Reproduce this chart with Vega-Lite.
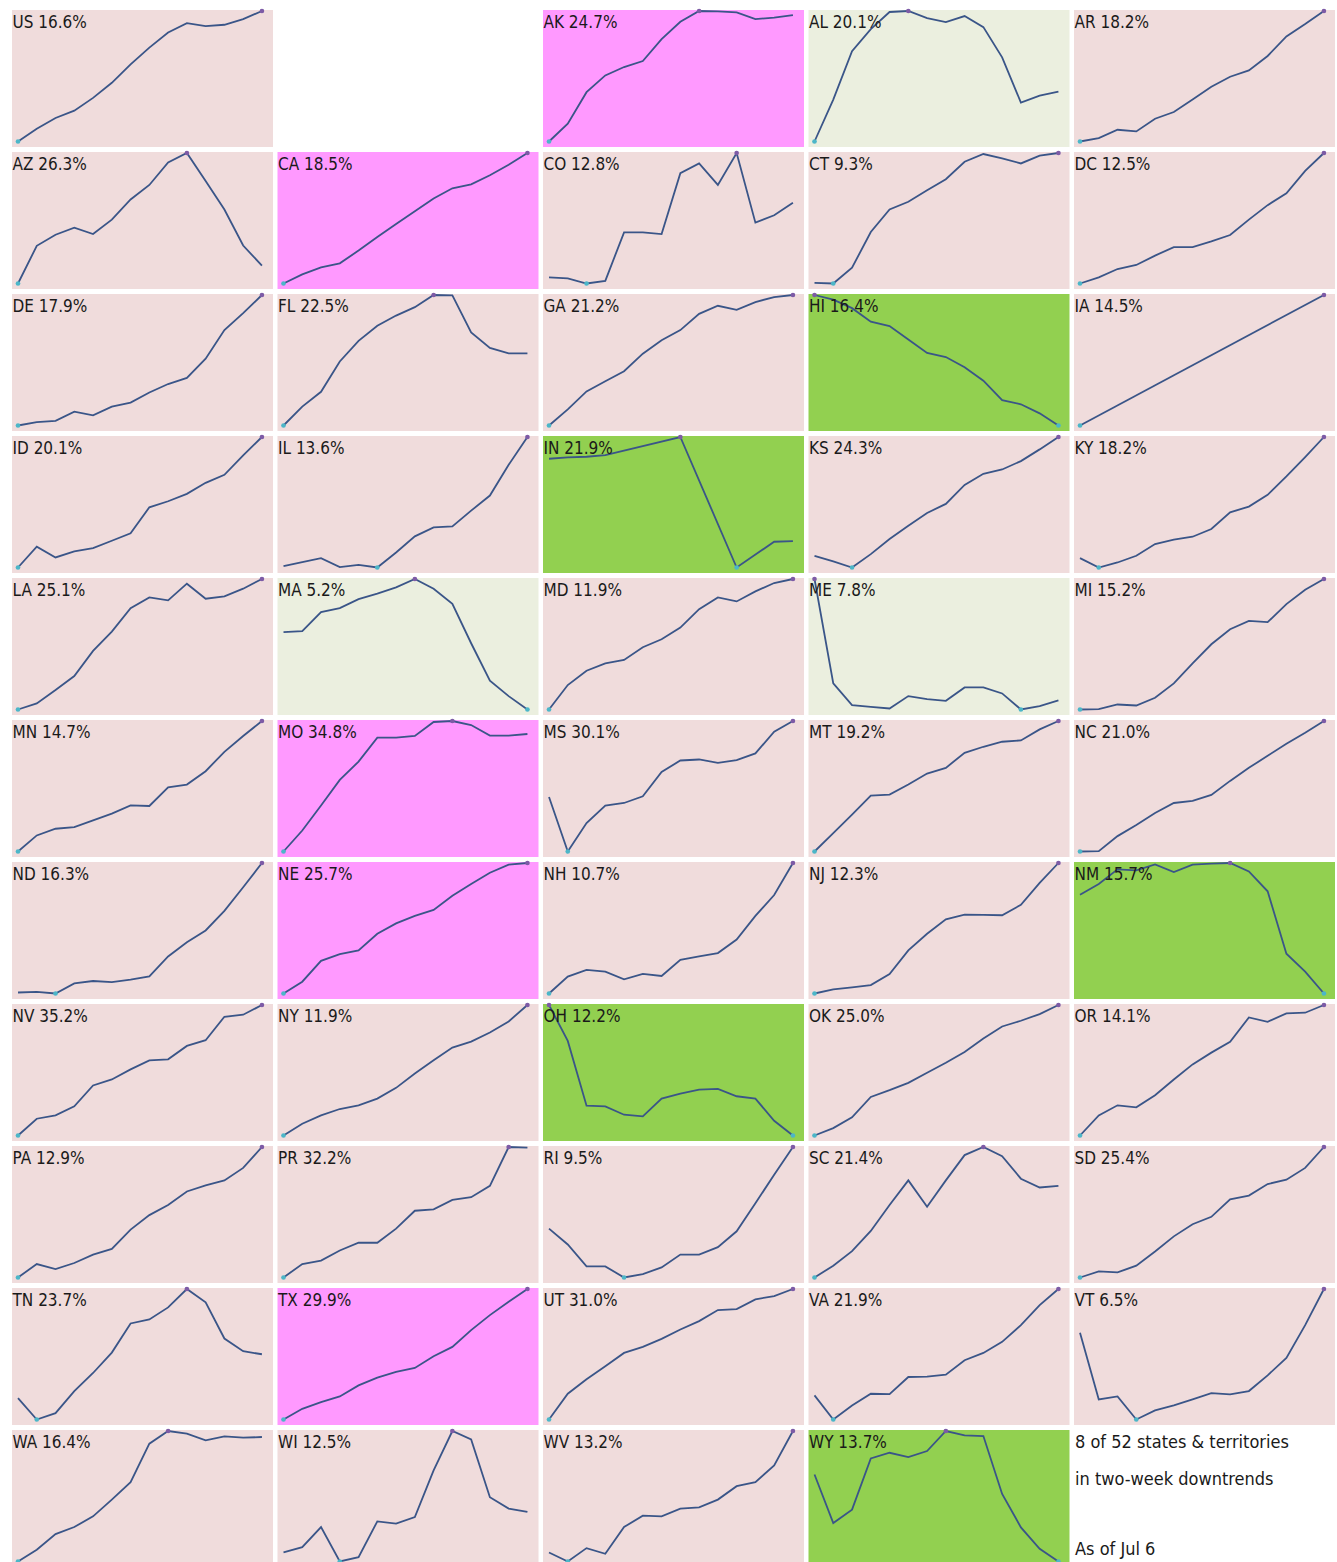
{
  "$schema": "https://vega.github.io/schema/vega-lite/v6.json",
  "padding": {"left": 12, "top": 7, "right": 0, "bottom": 0},
  "background": "white",
  "config": {"view": {"stroke": null}, "header": {"labels": false, "title": null, "labelExpr": "''", "labelFontSize": 0, "labelPadding": 0, "labelLineHeight": 0, "titlePadding": 0}},
  "data": {"values": [
    {"s":"US","c":"up","label":"US 16.6%"},{"s":"blank","c":"none"},{"s":"AK","c":"up-fast","label":"AK 24.7%"},{"s":"AL","c":"down","label":"AL 20.1%"},{"s":"AR","c":"up","label":"AR 18.2%"},
    {"s":"AZ","c":"up","label":"AZ 26.3%"},{"s":"CA","c":"up-fast","label":"CA 18.5%"},{"s":"CO","c":"up","label":"CO 12.8%"},{"s":"CT","c":"up","label":"CT 9.3%"},{"s":"DC","c":"up","label":"DC 12.5%"},
    {"s":"DE","c":"up","label":"DE 17.9%"},{"s":"FL","c":"up","label":"FL 22.5%"},{"s":"GA","c":"up","label":"GA 21.2%"},{"s":"HI","c":"down-strong","label":"HI 16.4%"},{"s":"IA","c":"up","label":"IA 14.5%"},
    {"s":"ID","c":"up","label":"ID 20.1%"},{"s":"IL","c":"up","label":"IL 13.6%"},{"s":"IN","c":"down-strong","label":"IN 21.9%"},{"s":"KS","c":"up","label":"KS 24.3%"},{"s":"KY","c":"up","label":"KY 18.2%"},
    {"s":"LA","c":"up","label":"LA 25.1%"},{"s":"MA","c":"down","label":"MA 5.2%"},{"s":"MD","c":"up","label":"MD 11.9%"},{"s":"ME","c":"down","label":"ME 7.8%"},{"s":"MI","c":"up","label":"MI 15.2%"},
    {"s":"MN","c":"up","label":"MN 14.7%"},{"s":"MO","c":"up-fast","label":"MO 34.8%"},{"s":"MS","c":"up","label":"MS 30.1%"},{"s":"MT","c":"up","label":"MT 19.2%"},{"s":"NC","c":"up","label":"NC 21.0%"},
    {"s":"ND","c":"up","label":"ND 16.3%"},{"s":"NE","c":"up-fast","label":"NE 25.7%"},{"s":"NH","c":"up","label":"NH 10.7%"},{"s":"NJ","c":"up","label":"NJ 12.3%"},{"s":"NM","c":"down-strong","label":"NM 15.7%"},
    {"s":"NV","c":"up","label":"NV 35.2%"},{"s":"NY","c":"up","label":"NY 11.9%"},{"s":"OH","c":"down-strong","label":"OH 12.2%"},{"s":"OK","c":"up","label":"OK 25.0%"},{"s":"OR","c":"up","label":"OR 14.1%"},
    {"s":"PA","c":"up","label":"PA 12.9%"},{"s":"PR","c":"up","label":"PR 32.2%"},{"s":"RI","c":"up","label":"RI 9.5%"},{"s":"SC","c":"up","label":"SC 21.4%"},{"s":"SD","c":"up","label":"SD 25.4%"},
    {"s":"TN","c":"up","label":"TN 23.7%"},{"s":"TX","c":"up-fast","label":"TX 29.9%"},{"s":"UT","c":"up","label":"UT 31.0%"},{"s":"VA","c":"up","label":"VA 21.9%"},{"s":"VT","c":"up","label":"VT 6.5%"},
    {"s":"WA","c":"up","label":"WA 16.4%"},{"s":"WI","c":"up","label":"WI 12.5%"},{"s":"WV","c":"up","label":"WV 13.2%"},{"s":"WY","c":"down-strong","label":"WY 13.7%"},
    {"s":"note","c":"none","i":0,"note":"8 of 52 states & territories\nin two-week downtrends"},
    {"s":"note","i":0,"asof":"As of Jul 6"},

    {"s":"US","i":0,"v":15},{"s":"US","i":1,"v":53},{"s":"US","i":2,"v":85},{"s":"US","i":3,"v":107},{"s":"US","i":4,"v":145},{"s":"US","i":5,"v":190},{"s":"US","i":6,"v":245},{"s":"US","i":7,"v":295},{"s":"US","i":8,"v":340},{"s":"US","i":9,"v":368},{"s":"US","i":10,"v":359},{"s":"US","i":11,"v":363},{"s":"US","i":12,"v":380},{"s":"US","i":13,"v":404},
    {"s":"AK","i":0,"v":15},{"s":"AK","i":1,"v":68},{"s":"AK","i":2,"v":162},{"s":"AK","i":3,"v":212},{"s":"AK","i":4,"v":237},{"s":"AK","i":5,"v":255},{"s":"AK","i":6,"v":320},{"s":"AK","i":7,"v":372},{"s":"AK","i":8,"v":404},{"s":"AK","i":9,"v":403},{"s":"AK","i":10,"v":400},{"s":"AK","i":11,"v":380},{"s":"AK","i":12,"v":384},{"s":"AK","i":13,"v":392},
    {"s":"AL","i":0,"v":15},{"s":"AL","i":1,"v":140},{"s":"AL","i":2,"v":284},{"s":"AL","i":3,"v":350},{"s":"AL","i":4,"v":401},{"s":"AL","i":5,"v":404},{"s":"AL","i":6,"v":383},{"s":"AL","i":7,"v":371},{"s":"AL","i":8,"v":389},{"s":"AL","i":9,"v":356},{"s":"AL","i":10,"v":266},{"s":"AL","i":11,"v":131},{"s":"AL","i":12,"v":152},{"s":"AL","i":13,"v":164},
    {"s":"AR","i":0,"v":15},{"s":"AR","i":1,"v":25},{"s":"AR","i":2,"v":50},{"s":"AR","i":3,"v":45},{"s":"AR","i":4,"v":83},{"s":"AR","i":5,"v":103},{"s":"AR","i":6,"v":140},{"s":"AR","i":7,"v":178},{"s":"AR","i":8,"v":208},{"s":"AR","i":9,"v":227},{"s":"AR","i":10,"v":270},{"s":"AR","i":11,"v":328},{"s":"AR","i":12,"v":365},{"s":"AR","i":13,"v":404},
    {"s":"AZ","i":0,"v":17},{"s":"AZ","i":1,"v":129},{"s":"AZ","i":2,"v":162},{"s":"AZ","i":3,"v":183},{"s":"AZ","i":4,"v":164},{"s":"AZ","i":5,"v":207},{"s":"AZ","i":6,"v":267},{"s":"AZ","i":7,"v":310},{"s":"AZ","i":8,"v":377},{"s":"AZ","i":9,"v":405},{"s":"AZ","i":10,"v":322},{"s":"AZ","i":11,"v":237},{"s":"AZ","i":12,"v":130},{"s":"AZ","i":13,"v":70},
    {"s":"CA","i":0,"v":17},{"s":"CA","i":1,"v":44},{"s":"CA","i":2,"v":65},{"s":"CA","i":3,"v":77},{"s":"CA","i":4,"v":115},{"s":"CA","i":5,"v":155},{"s":"CA","i":6,"v":194},{"s":"CA","i":7,"v":232},{"s":"CA","i":8,"v":270},{"s":"CA","i":9,"v":300},{"s":"CA","i":10,"v":312},{"s":"CA","i":11,"v":339},{"s":"CA","i":12,"v":370},{"s":"CA","i":13,"v":405},
    {"s":"CO","i":0,"v":35},{"s":"CO","i":1,"v":32},{"s":"CO","i":2,"v":17},{"s":"CO","i":3,"v":25},{"s":"CO","i":4,"v":169},{"s":"CO","i":5,"v":169},{"s":"CO","i":6,"v":164},{"s":"CO","i":7,"v":345},{"s":"CO","i":8,"v":374},{"s":"CO","i":9,"v":310},{"s":"CO","i":10,"v":405},{"s":"CO","i":11,"v":198},{"s":"CO","i":12,"v":220},{"s":"CO","i":13,"v":257},
    {"s":"CT","i":0,"v":19},{"s":"CT","i":1,"v":17},{"s":"CT","i":2,"v":64},{"s":"CT","i":3,"v":170},{"s":"CT","i":4,"v":237},{"s":"CT","i":5,"v":260},{"s":"CT","i":6,"v":294},{"s":"CT","i":7,"v":327},{"s":"CT","i":8,"v":379},{"s":"CT","i":9,"v":402},{"s":"CT","i":10,"v":389},{"s":"CT","i":11,"v":374},{"s":"CT","i":12,"v":397},{"s":"CT","i":13,"v":405},
    {"s":"DC","i":0,"v":17},{"s":"DC","i":1,"v":35},{"s":"DC","i":2,"v":60},{"s":"DC","i":3,"v":72},{"s":"DC","i":4,"v":100},{"s":"DC","i":5,"v":125},{"s":"DC","i":6,"v":125},{"s":"DC","i":7,"v":142},{"s":"DC","i":8,"v":161},{"s":"DC","i":9,"v":207},{"s":"DC","i":10,"v":250},{"s":"DC","i":11,"v":285},{"s":"DC","i":12,"v":352},{"s":"DC","i":13,"v":405},
    {"s":"DE","i":0,"v":18},{"s":"DE","i":1,"v":28},{"s":"DE","i":2,"v":32},{"s":"DE","i":3,"v":59},{"s":"DE","i":4,"v":48},{"s":"DE","i":5,"v":74},{"s":"DE","i":6,"v":86},{"s":"DE","i":7,"v":116},{"s":"DE","i":8,"v":141},{"s":"DE","i":9,"v":159},{"s":"DE","i":10,"v":216},{"s":"DE","i":11,"v":301},{"s":"DE","i":12,"v":351},{"s":"DE","i":13,"v":405},
    {"s":"FL","i":0,"v":18},{"s":"FL","i":1,"v":74},{"s":"FL","i":2,"v":118},{"s":"FL","i":3,"v":208},{"s":"FL","i":4,"v":269},{"s":"FL","i":5,"v":314},{"s":"FL","i":6,"v":344},{"s":"FL","i":7,"v":369},{"s":"FL","i":8,"v":405},{"s":"FL","i":9,"v":404},{"s":"FL","i":10,"v":294},{"s":"FL","i":11,"v":248},{"s":"FL","i":12,"v":232},{"s":"FL","i":13,"v":232},
    {"s":"GA","i":0,"v":18},{"s":"GA","i":1,"v":66},{"s":"GA","i":2,"v":119},{"s":"GA","i":3,"v":149},{"s":"GA","i":4,"v":179},{"s":"GA","i":5,"v":231},{"s":"GA","i":6,"v":271},{"s":"GA","i":7,"v":301},{"s":"GA","i":8,"v":349},{"s":"GA","i":9,"v":373},{"s":"GA","i":10,"v":361},{"s":"GA","i":11,"v":384},{"s":"GA","i":12,"v":399},{"s":"GA","i":13,"v":405},
    {"s":"HI","i":0,"v":405},{"s":"HI","i":1,"v":391},{"s":"HI","i":2,"v":366},{"s":"HI","i":3,"v":326},{"s":"HI","i":4,"v":313},{"s":"HI","i":5,"v":273},{"s":"HI","i":6,"v":233},{"s":"HI","i":7,"v":221},{"s":"HI","i":8,"v":191},{"s":"HI","i":9,"v":151},{"s":"HI","i":10,"v":93},{"s":"HI","i":11,"v":81},{"s":"HI","i":12,"v":54},{"s":"HI","i":13,"v":18},
    {"s":"IA","i":0,"v":18},{"s":"IA","i":13,"v":405},
    {"s":"ID","i":0,"v":17},{"s":"ID","i":1,"v":79},{"s":"ID","i":2,"v":47},{"s":"ID","i":3,"v":65},{"s":"ID","i":4,"v":75},{"s":"ID","i":5,"v":97},{"s":"ID","i":6,"v":119},{"s":"ID","i":7,"v":197},{"s":"ID","i":8,"v":215},{"s":"ID","i":9,"v":237},{"s":"ID","i":10,"v":270},{"s":"ID","i":11,"v":294},{"s":"ID","i":12,"v":352},{"s":"ID","i":13,"v":407},
    {"s":"IL","i":0,"v":21},{"s":"IL","i":1,"v":33},{"s":"IL","i":2,"v":45},{"s":"IL","i":3,"v":18},{"s":"IL","i":4,"v":25},{"s":"IL","i":5,"v":17},{"s":"IL","i":6,"v":62},{"s":"IL","i":7,"v":110},{"s":"IL","i":8,"v":137},{"s":"IL","i":9,"v":140},{"s":"IL","i":10,"v":187},{"s":"IL","i":11,"v":232},{"s":"IL","i":12,"v":324},{"s":"IL","i":13,"v":407},
    {"s":"IN","i":0,"v":342},{"s":"IN","i":1,"v":346},{"s":"IN","i":2,"v":348},{"s":"IN","i":3,"v":353},{"s":"IN","i":7,"v":407},{"s":"IN","i":10,"v":17},{"s":"IN","i":12,"v":94},{"s":"IN","i":13,"v":96},
    {"s":"KS","i":0,"v":52},{"s":"KS","i":1,"v":35},{"s":"KS","i":2,"v":17},{"s":"KS","i":3,"v":57},{"s":"KS","i":4,"v":102},{"s":"KS","i":5,"v":142},{"s":"KS","i":6,"v":180},{"s":"KS","i":7,"v":207},{"s":"KS","i":8,"v":264},{"s":"KS","i":9,"v":297},{"s":"KS","i":10,"v":310},{"s":"KS","i":11,"v":335},{"s":"KS","i":12,"v":370},{"s":"KS","i":13,"v":407},
    {"s":"KY","i":0,"v":45},{"s":"KY","i":1,"v":17},{"s":"KY","i":2,"v":32},{"s":"KY","i":3,"v":52},{"s":"KY","i":4,"v":87},{"s":"KY","i":5,"v":100},{"s":"KY","i":6,"v":109},{"s":"KY","i":7,"v":132},{"s":"KY","i":8,"v":182},{"s":"KY","i":9,"v":199},{"s":"KY","i":10,"v":234},{"s":"KY","i":11,"v":289},{"s":"KY","i":12,"v":347},{"s":"KY","i":13,"v":407},
    {"s":"LA","i":0,"v":18},{"s":"LA","i":1,"v":36},{"s":"LA","i":2,"v":76},{"s":"LA","i":3,"v":118},{"s":"LA","i":4,"v":193},{"s":"LA","i":5,"v":251},{"s":"LA","i":6,"v":321},{"s":"LA","i":7,"v":353},{"s":"LA","i":8,"v":344},{"s":"LA","i":9,"v":394},{"s":"LA","i":10,"v":349},{"s":"LA","i":11,"v":356},{"s":"LA","i":12,"v":379},{"s":"LA","i":13,"v":408},
    {"s":"MA","i":0,"v":249},{"s":"MA","i":1,"v":252},{"s":"MA","i":2,"v":309},{"s":"MA","i":3,"v":321},{"s":"MA","i":4,"v":348},{"s":"MA","i":5,"v":364},{"s":"MA","i":6,"v":383},{"s":"MA","i":7,"v":408},{"s":"MA","i":8,"v":379},{"s":"MA","i":9,"v":334},{"s":"MA","i":10,"v":216},{"s":"MA","i":11,"v":104},{"s":"MA","i":12,"v":58},{"s":"MA","i":13,"v":18},
    {"s":"MD","i":0,"v":18},{"s":"MD","i":1,"v":91},{"s":"MD","i":2,"v":134},{"s":"MD","i":3,"v":156},{"s":"MD","i":4,"v":166},{"s":"MD","i":5,"v":204},{"s":"MD","i":6,"v":228},{"s":"MD","i":7,"v":263},{"s":"MD","i":8,"v":318},{"s":"MD","i":9,"v":353},{"s":"MD","i":10,"v":341},{"s":"MD","i":11,"v":371},{"s":"MD","i":12,"v":396},{"s":"MD","i":13,"v":408},
    {"s":"ME","i":0,"v":408},{"s":"ME","i":1,"v":96},{"s":"ME","i":2,"v":31},{"s":"ME","i":3,"v":26},{"s":"ME","i":4,"v":21},{"s":"ME","i":5,"v":58},{"s":"ME","i":6,"v":49},{"s":"ME","i":7,"v":44},{"s":"ME","i":8,"v":84},{"s":"ME","i":9,"v":84},{"s":"ME","i":10,"v":66},{"s":"ME","i":11,"v":18},{"s":"ME","i":12,"v":28},{"s":"ME","i":13,"v":45},
    {"s":"MI","i":0,"v":18},{"s":"MI","i":1,"v":19},{"s":"MI","i":2,"v":33},{"s":"MI","i":3,"v":30},{"s":"MI","i":4,"v":53},{"s":"MI","i":5,"v":96},{"s":"MI","i":6,"v":156},{"s":"MI","i":7,"v":213},{"s":"MI","i":8,"v":258},{"s":"MI","i":9,"v":283},{"s":"MI","i":10,"v":279},{"s":"MI","i":11,"v":333},{"s":"MI","i":12,"v":376},{"s":"MI","i":13,"v":408},
    {"s":"MN","i":0,"v":17},{"s":"MN","i":1,"v":65},{"s":"MN","i":2,"v":85},{"s":"MN","i":3,"v":90},{"s":"MN","i":4,"v":110},{"s":"MN","i":5,"v":130},{"s":"MN","i":6,"v":155},{"s":"MN","i":7,"v":153},{"s":"MN","i":8,"v":209},{"s":"MN","i":9,"v":217},{"s":"MN","i":10,"v":257},{"s":"MN","i":11,"v":315},{"s":"MN","i":12,"v":362},{"s":"MN","i":13,"v":407},
    {"s":"MO","i":0,"v":17},{"s":"MO","i":1,"v":80},{"s":"MO","i":2,"v":155},{"s":"MO","i":3,"v":232},{"s":"MO","i":4,"v":287},{"s":"MO","i":5,"v":359},{"s":"MO","i":6,"v":359},{"s":"MO","i":7,"v":364},{"s":"MO","i":8,"v":406},{"s":"MO","i":9,"v":409},{"s":"MO","i":10,"v":397},{"s":"MO","i":11,"v":365},{"s":"MO","i":12,"v":365},{"s":"MO","i":13,"v":370},
    {"s":"MS","i":0,"v":180},{"s":"MS","i":1,"v":17},{"s":"MS","i":2,"v":102},{"s":"MS","i":3,"v":154},{"s":"MS","i":4,"v":162},{"s":"MS","i":5,"v":182},{"s":"MS","i":6,"v":255},{"s":"MS","i":7,"v":289},{"s":"MS","i":8,"v":292},{"s":"MS","i":9,"v":282},{"s":"MS","i":10,"v":290},{"s":"MS","i":11,"v":310},{"s":"MS","i":12,"v":375},{"s":"MS","i":13,"v":407},
    {"s":"MT","i":0,"v":17},{"s":"MT","i":1,"v":72},{"s":"MT","i":2,"v":127},{"s":"MT","i":3,"v":184},{"s":"MT","i":4,"v":187},{"s":"MT","i":5,"v":217},{"s":"MT","i":6,"v":250},{"s":"MT","i":7,"v":267},{"s":"MT","i":8,"v":312},{"s":"MT","i":9,"v":330},{"s":"MT","i":10,"v":345},{"s":"MT","i":11,"v":349},{"s":"MT","i":12,"v":382},{"s":"MT","i":13,"v":407},
    {"s":"NC","i":0,"v":17},{"s":"NC","i":1,"v":18},{"s":"NC","i":2,"v":63},{"s":"NC","i":3,"v":96},{"s":"NC","i":4,"v":132},{"s":"NC","i":5,"v":162},{"s":"NC","i":6,"v":168},{"s":"NC","i":7,"v":186},{"s":"NC","i":8,"v":228},{"s":"NC","i":9,"v":267},{"s":"NC","i":10,"v":303},{"s":"NC","i":11,"v":339},{"s":"NC","i":12,"v":372},{"s":"NC","i":13,"v":407},
    {"s":"ND","i":0,"v":24},{"s":"ND","i":1,"v":26},{"s":"ND","i":2,"v":21},{"s":"ND","i":3,"v":51},{"s":"ND","i":4,"v":58},{"s":"ND","i":5,"v":55},{"s":"ND","i":6,"v":62},{"s":"ND","i":7,"v":72},{"s":"ND","i":8,"v":131},{"s":"ND","i":9,"v":173},{"s":"ND","i":10,"v":208},{"s":"ND","i":11,"v":266},{"s":"ND","i":12,"v":336},{"s":"ND","i":13,"v":408},
    {"s":"NE","i":0,"v":21},{"s":"NE","i":1,"v":56},{"s":"NE","i":2,"v":118},{"s":"NE","i":3,"v":138},{"s":"NE","i":4,"v":149},{"s":"NE","i":5,"v":198},{"s":"NE","i":6,"v":229},{"s":"NE","i":7,"v":251},{"s":"NE","i":8,"v":269},{"s":"NE","i":9,"v":311},{"s":"NE","i":10,"v":346},{"s":"NE","i":11,"v":379},{"s":"NE","i":12,"v":403},{"s":"NE","i":13,"v":408},
    {"s":"NH","i":0,"v":21},{"s":"NH","i":1,"v":71},{"s":"NH","i":2,"v":91},{"s":"NH","i":3,"v":86},{"s":"NH","i":4,"v":63},{"s":"NH","i":5,"v":79},{"s":"NH","i":6,"v":73},{"s":"NH","i":7,"v":121},{"s":"NH","i":8,"v":131},{"s":"NH","i":9,"v":141},{"s":"NH","i":10,"v":181},{"s":"NH","i":11,"v":251},{"s":"NH","i":12,"v":313},{"s":"NH","i":13,"v":408},
    {"s":"NJ","i":0,"v":21},{"s":"NJ","i":1,"v":33},{"s":"NJ","i":2,"v":39},{"s":"NJ","i":3,"v":46},{"s":"NJ","i":4,"v":79},{"s":"NJ","i":5,"v":149},{"s":"NJ","i":6,"v":198},{"s":"NJ","i":7,"v":241},{"s":"NJ","i":8,"v":255},{"s":"NJ","i":9,"v":254},{"s":"NJ","i":10,"v":253},{"s":"NJ","i":11,"v":284},{"s":"NJ","i":12,"v":349},{"s":"NJ","i":13,"v":408},
    {"s":"NM","i":0,"v":314},{"s":"NM","i":1,"v":346},{"s":"NM","i":2,"v":389},{"s":"NM","i":3,"v":386},{"s":"NM","i":4,"v":404},{"s":"NM","i":5,"v":381},{"s":"NM","i":6,"v":403},{"s":"NM","i":7,"v":406},{"s":"NM","i":8,"v":408},{"s":"NM","i":9,"v":383},{"s":"NM","i":10,"v":324},{"s":"NM","i":11,"v":139},{"s":"NM","i":12,"v":86},{"s":"NM","i":13,"v":21},
    {"s":"NV","i":0,"v":20},{"s":"NV","i":1,"v":70},{"s":"NV","i":2,"v":80},{"s":"NV","i":3,"v":107},{"s":"NV","i":4,"v":169},{"s":"NV","i":5,"v":187},{"s":"NV","i":6,"v":217},{"s":"NV","i":7,"v":244},{"s":"NV","i":8,"v":247},{"s":"NV","i":9,"v":287},{"s":"NV","i":10,"v":304},{"s":"NV","i":11,"v":374},{"s":"NV","i":12,"v":380},{"s":"NV","i":13,"v":409},
    {"s":"NY","i":0,"v":20},{"s":"NY","i":1,"v":55},{"s":"NY","i":2,"v":80},{"s":"NY","i":3,"v":99},{"s":"NY","i":4,"v":110},{"s":"NY","i":5,"v":130},{"s":"NY","i":6,"v":162},{"s":"NY","i":7,"v":205},{"s":"NY","i":8,"v":244},{"s":"NY","i":9,"v":282},{"s":"NY","i":10,"v":300},{"s":"NY","i":11,"v":327},{"s":"NY","i":12,"v":360},{"s":"NY","i":13,"v":409},
    {"s":"OH","i":0,"v":409},{"s":"OH","i":1,"v":302},{"s":"OH","i":2,"v":109},{"s":"OH","i":3,"v":107},{"s":"OH","i":4,"v":82},{"s":"OH","i":5,"v":77},{"s":"OH","i":6,"v":130},{"s":"OH","i":7,"v":145},{"s":"OH","i":8,"v":157},{"s":"OH","i":9,"v":159},{"s":"OH","i":10,"v":137},{"s":"OH","i":11,"v":130},{"s":"OH","i":12,"v":64},{"s":"OH","i":13,"v":20},
    {"s":"OK","i":0,"v":20},{"s":"OK","i":1,"v":42},{"s":"OK","i":2,"v":74},{"s":"OK","i":3,"v":135},{"s":"OK","i":4,"v":155},{"s":"OK","i":5,"v":177},{"s":"OK","i":6,"v":207},{"s":"OK","i":7,"v":237},{"s":"OK","i":8,"v":269},{"s":"OK","i":9,"v":309},{"s":"OK","i":10,"v":345},{"s":"OK","i":11,"v":362},{"s":"OK","i":12,"v":382},{"s":"OK","i":13,"v":409},
    {"s":"OR","i":0,"v":20},{"s":"OR","i":1,"v":80},{"s":"OR","i":2,"v":110},{"s":"OR","i":3,"v":104},{"s":"OR","i":4,"v":140},{"s":"OR","i":5,"v":187},{"s":"OR","i":6,"v":232},{"s":"OR","i":7,"v":267},{"s":"OR","i":8,"v":299},{"s":"OR","i":9,"v":372},{"s":"OR","i":10,"v":359},{"s":"OR","i":11,"v":384},{"s":"OR","i":12,"v":386},{"s":"OR","i":13,"v":409},
    {"s":"PA","i":0,"v":21},{"s":"PA","i":1,"v":61},{"s":"PA","i":2,"v":46},{"s":"PA","i":3,"v":64},{"s":"PA","i":4,"v":89},{"s":"PA","i":5,"v":106},{"s":"PA","i":6,"v":163},{"s":"PA","i":7,"v":206},{"s":"PA","i":8,"v":236},{"s":"PA","i":9,"v":276},{"s":"PA","i":10,"v":294},{"s":"PA","i":11,"v":309},{"s":"PA","i":12,"v":346},{"s":"PA","i":13,"v":408},
    {"s":"PR","i":0,"v":21},{"s":"PR","i":1,"v":61},{"s":"PR","i":2,"v":71},{"s":"PR","i":3,"v":101},{"s":"PR","i":4,"v":124},{"s":"PR","i":5,"v":124},{"s":"PR","i":6,"v":166},{"s":"PR","i":7,"v":219},{"s":"PR","i":8,"v":223},{"s":"PR","i":9,"v":251},{"s":"PR","i":10,"v":259},{"s":"PR","i":11,"v":293},{"s":"PR","i":12,"v":408},{"s":"PR","i":13,"v":406},
    {"s":"RI","i":0,"v":166},{"s":"RI","i":1,"v":119},{"s":"RI","i":2,"v":54},{"s":"RI","i":3,"v":54},{"s":"RI","i":4,"v":21},{"s":"RI","i":5,"v":31},{"s":"RI","i":6,"v":51},{"s":"RI","i":7,"v":89},{"s":"RI","i":8,"v":89},{"s":"RI","i":9,"v":111},{"s":"RI","i":10,"v":158},{"s":"RI","i":11,"v":241},{"s":"RI","i":12,"v":326},{"s":"RI","i":13,"v":408},
    {"s":"SC","i":0,"v":21},{"s":"SC","i":1,"v":56},{"s":"SC","i":2,"v":99},{"s":"SC","i":3,"v":159},{"s":"SC","i":4,"v":236},{"s":"SC","i":5,"v":309},{"s":"SC","i":6,"v":231},{"s":"SC","i":7,"v":309},{"s":"SC","i":8,"v":384},{"s":"SC","i":9,"v":408},{"s":"SC","i":10,"v":381},{"s":"SC","i":11,"v":314},{"s":"SC","i":12,"v":288},{"s":"SC","i":13,"v":293},
    {"s":"SD","i":0,"v":21},{"s":"SD","i":1,"v":39},{"s":"SD","i":2,"v":36},{"s":"SD","i":3,"v":56},{"s":"SD","i":4,"v":98},{"s":"SD","i":5,"v":143},{"s":"SD","i":6,"v":179},{"s":"SD","i":7,"v":201},{"s":"SD","i":8,"v":253},{"s":"SD","i":9,"v":264},{"s":"SD","i":10,"v":298},{"s":"SD","i":11,"v":311},{"s":"SD","i":12,"v":346},{"s":"SD","i":13,"v":408},
    {"s":"TN","i":0,"v":84},{"s":"TN","i":1,"v":20},{"s":"TN","i":2,"v":39},{"s":"TN","i":3,"v":105},{"s":"TN","i":4,"v":159},{"s":"TN","i":5,"v":220},{"s":"TN","i":6,"v":307},{"s":"TN","i":7,"v":319},{"s":"TN","i":8,"v":355},{"s":"TN","i":9,"v":410},{"s":"TN","i":10,"v":370},{"s":"TN","i":11,"v":262},{"s":"TN","i":12,"v":224},{"s":"TN","i":13,"v":215},
    {"s":"TX","i":0,"v":20},{"s":"TX","i":1,"v":52},{"s":"TX","i":2,"v":72},{"s":"TX","i":3,"v":89},{"s":"TX","i":4,"v":122},{"s":"TX","i":5,"v":145},{"s":"TX","i":6,"v":162},{"s":"TX","i":7,"v":174},{"s":"TX","i":8,"v":209},{"s":"TX","i":9,"v":237},{"s":"TX","i":10,"v":287},{"s":"TX","i":11,"v":332},{"s":"TX","i":12,"v":372},{"s":"TX","i":13,"v":410},
    {"s":"UT","i":0,"v":20},{"s":"UT","i":1,"v":97},{"s":"UT","i":2,"v":140},{"s":"UT","i":3,"v":179},{"s":"UT","i":4,"v":219},{"s":"UT","i":5,"v":237},{"s":"UT","i":6,"v":261},{"s":"UT","i":7,"v":289},{"s":"UT","i":8,"v":314},{"s":"UT","i":9,"v":347},{"s":"UT","i":10,"v":350},{"s":"UT","i":11,"v":379},{"s":"UT","i":12,"v":389},{"s":"UT","i":13,"v":410},
    {"s":"VA","i":0,"v":92},{"s":"VA","i":1,"v":20},{"s":"VA","i":2,"v":62},{"s":"VA","i":3,"v":97},{"s":"VA","i":4,"v":96},{"s":"VA","i":5,"v":147},{"s":"VA","i":6,"v":148},{"s":"VA","i":7,"v":154},{"s":"VA","i":8,"v":197},{"s":"VA","i":9,"v":219},{"s":"VA","i":10,"v":252},{"s":"VA","i":11,"v":302},{"s":"VA","i":12,"v":362},{"s":"VA","i":13,"v":410},
    {"s":"VT","i":0,"v":279},{"s":"VT","i":1,"v":80},{"s":"VT","i":2,"v":89},{"s":"VT","i":3,"v":20},{"s":"VT","i":4,"v":47},{"s":"VT","i":5,"v":62},{"s":"VT","i":6,"v":80},{"s":"VT","i":7,"v":99},{"s":"VT","i":8,"v":95},{"s":"VT","i":9,"v":105},{"s":"VT","i":10,"v":152},{"s":"VT","i":11,"v":204},{"s":"VT","i":12,"v":302},{"s":"VT","i":13,"v":410},
    {"s":"WA","i":0,"v":21},{"s":"WA","i":1,"v":56},{"s":"WA","i":2,"v":103},{"s":"WA","i":3,"v":124},{"s":"WA","i":4,"v":156},{"s":"WA","i":5,"v":206},{"s":"WA","i":6,"v":258},{"s":"WA","i":7,"v":373},{"s":"WA","i":8,"v":411},{"s":"WA","i":9,"v":403},{"s":"WA","i":10,"v":383},{"s":"WA","i":11,"v":395},{"s":"WA","i":12,"v":391},{"s":"WA","i":13,"v":393},
    {"s":"WI","i":0,"v":48},{"s":"WI","i":1,"v":64},{"s":"WI","i":2,"v":124},{"s":"WI","i":3,"v":21},{"s":"WI","i":4,"v":34},{"s":"WI","i":5,"v":141},{"s":"WI","i":6,"v":134},{"s":"WI","i":7,"v":154},{"s":"WI","i":8,"v":293},{"s":"WI","i":9,"v":411},{"s":"WI","i":10,"v":386},{"s":"WI","i":11,"v":213},{"s":"WI","i":12,"v":179},{"s":"WI","i":13,"v":169},
    {"s":"WV","i":0,"v":48},{"s":"WV","i":1,"v":21},{"s":"WV","i":2,"v":61},{"s":"WV","i":3,"v":44},{"s":"WV","i":4,"v":124},{"s":"WV","i":5,"v":158},{"s":"WV","i":6,"v":156},{"s":"WV","i":7,"v":179},{"s":"WV","i":8,"v":183},{"s":"WV","i":9,"v":206},{"s":"WV","i":10,"v":246},{"s":"WV","i":11,"v":258},{"s":"WV","i":12,"v":308},{"s":"WV","i":13,"v":411},
    {"s":"WY","i":0,"v":281},{"s":"WY","i":1,"v":136},{"s":"WY","i":2,"v":176},{"s":"WY","i":3,"v":329},{"s":"WY","i":4,"v":346},{"s":"WY","i":5,"v":333},{"s":"WY","i":6,"v":351},{"s":"WY","i":7,"v":411},{"s":"WY","i":8,"v":398},{"s":"WY","i":9,"v":396},{"s":"WY","i":10,"v":223},{"s":"WY","i":11,"v":123},{"s":"WY","i":12,"v":59},{"s":"WY","i":13,"v":21}
  ]},
  "transform": [
    {"joinaggregate": [
      {"op": "max", "field": "v", "as": "vmax"},
      {"op": "min", "field": "v", "as": "vmin"},
      {"op": "min", "field": "i", "as": "i0"}
    ], "groupby": ["s"]}
  ],
  "facet": {
    "field": "s", "type": "nominal",
    "sort": ["US","blank","AK","AL","AR","AZ","CA","CO","CT","DC","DE","FL","GA","HI","IA","ID","IL","IN","KS","KY","LA","MA","MD","ME","MI","MN","MO","MS","MT","NC","ND","NE","NH","NJ","NM","NV","NY","OH","OK","OR","PA","PR","RI","SC","SD","TN","TX","UT","VA","VT","WA","WI","WV","WY","note"],
    "header": {"title": null, "labels": false, "labelExpr": "''", "labelFontSize": 0, "labelPadding": 0, "labelLineHeight": 0}
  },
  "columns": 5,
  "spacing": {"row": 2, "column": 4.5},
  "resolve": {"scale": {"y": "independent"}},
  "spec": {
    "width": 261,
    "height": 137,
    "layer": [
      {
        "transform": [{"filter": "isValid(datum.c)"}],
        "mark": {"type": "rect"},
        "encoding": {
          "color": {"field": "c", "type": "nominal", "legend": null,
            "scale": {"domain": ["up","up-fast","down","down-strong","none"], "range": ["#f0dcdc","#ff99ff","#ebefdf","#92d050","#ffffff"]}}
        }
      },
      {
        "transform": [{"filter": "isValid(datum.v)"}],
        "mark": {"type": "line", "color": "#3a5588", "strokeWidth": 1.8},
        "encoding": {
          "x": {"field": "i", "type": "quantitative", "scale": {"domain": [-0.32, 13.59], "nice": false, "zero": false}, "axis": null},
          "y": {"field": "v", "type": "quantitative", "scale": {"zero": false, "nice": false, "range": [131.5, 1]}, "axis": null}
        }
      },
      {
        "transform": [{"filter": "isValid(datum.v) && datum.v == datum.vmin"}],
        "mark": {"type": "circle", "color": "#4cb6c8", "size": 22, "opacity": 1},
        "encoding": {
          "x": {"field": "i", "type": "quantitative"},
          "y": {"field": "v", "type": "quantitative"}
        }
      },
      {
        "transform": [{"filter": "isValid(datum.v) && datum.v == datum.vmax"}],
        "mark": {"type": "circle", "color": "#7d5ba6", "size": 22, "opacity": 1},
        "encoding": {
          "x": {"field": "i", "type": "quantitative"},
          "y": {"field": "v", "type": "quantitative"}
        }
      },
      {
        "transform": [{"filter": "isValid(datum.label)"}],
        "mark": {"type": "text", "align": "left", "baseline": "top", "dx": -5.5, "dy": 3.5, "font": "DejaVu Sans Condensed, Liberation Sans, sans-serif", "fontSize": 17, "color": "#1a1a1a"},
        "encoding": {
          "x": {"field": "i0", "type": "quantitative"},
          "y": {"field": "vmax", "type": "quantitative"},
          "text": {"field": "label", "type": "nominal"}
        }
      },
      {
        "transform": [{"filter": "isValid(datum.note)"}],
        "mark": {"type": "text", "align": "left", "baseline": "alphabetic", "lineBreak": "\n", "lineHeight": 36.5, "dx": -5, "dy": -47.5, "font": "DejaVu Sans Condensed, Liberation Sans, sans-serif", "fontSize": 18, "color": "#1a1a1a"},
        "encoding": {
          "x": {"field": "i0", "type": "quantitative"},
          "text": {"field": "note", "type": "nominal"}
        }
      },
      {
        "transform": [{"filter": "isValid(datum.asof)"}],
        "mark": {"type": "text", "align": "left", "baseline": "alphabetic", "dx": -5, "dy": 59, "font": "DejaVu Sans Condensed, Liberation Sans, sans-serif", "fontSize": 18, "color": "#1a1a1a"},
        "encoding": {
          "x": {"field": "i0", "type": "quantitative"},
          "text": {"field": "asof", "type": "nominal"}
        }
      }
    ]
  }
}
